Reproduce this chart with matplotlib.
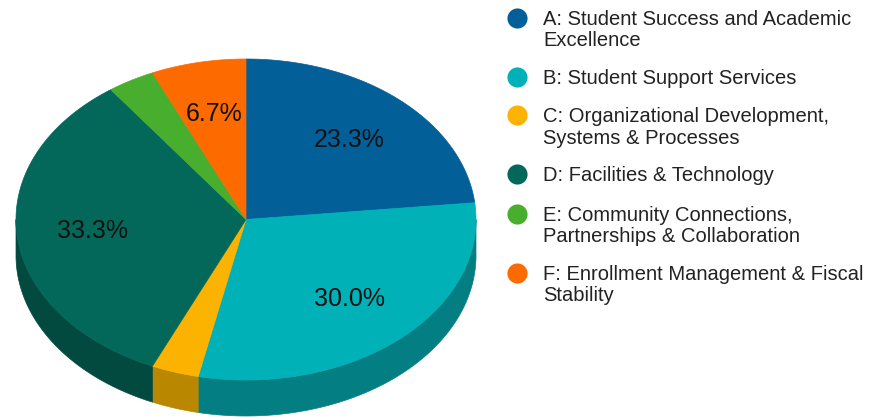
import matplotlib.pyplot as plt
import numpy as np
from matplotlib.patches import Polygon

plt.rcParams['font.family'] = ['Liberation Sans', 'DejaVu Sans']

labels = [
    "A: Student Success and Academic\nExcellence",
    "B: Student Support Services",
    "C: Organizational Development,\nSystems & Processes",
    "D: Facilities & Technology",
    "E: Community Connections,\nPartnerships & Collaboration",
    "F: Enrollment Management & Fiscal\nStability",
]
counts = [7, 9, 1, 10, 1, 2]
colors = ['#035f98', '#00b1b7', '#fbb300', '#03675a', '#47ae2e', '#fc6a00']
side_colors = ['#024670', '#037f84', '#b98700', '#024a40', '#317d1f', '#b54c00']

fig = plt.figure(figsize=(8.78, 4.17), dpi=100)
ax = fig.add_axes([0, 0, 1, 1])
ax.set_xlim(0, 878)
ax.set_ylim(417, 0)
ax.axis('off')

cx, cy, rx, ry, depth = 246, 219.5, 230, 160.5, 36

vals = np.array(counts, dtype=float)
frac = vals / vals.sum()
edges = np.concatenate([[0], np.cumsum(frac) * 360])


def pt(t, dy=0):
    r = np.radians(t)
    return cx + rx * np.sin(r), cy - ry * np.cos(r) + dy


# side walls (front half only: 90..270 deg clockwise from top)
for i in range(len(vals)):
    a, b = max(edges[i], 90), min(edges[i + 1], 270)
    if b <= a:
        continue
    ts = np.linspace(a, b, 100)
    top = [pt(t) for t in ts]
    bot = [pt(t, depth) for t in ts[::-1]]
    ax.add_patch(Polygon(top + bot, closed=True, fc=side_colors[i],
                         ec=side_colors[i], lw=0.5))

# top faces
for i in range(len(vals)):
    ts = np.linspace(edges[i], edges[i + 1], 200)
    poly = [(cx, cy)] + [pt(t) for t in ts]
    ax.add_patch(Polygon(poly, closed=True, fc=colors[i], ec=colors[i], lw=0.5))
    if frac[i] > 0.05:
        mid = (edges[i] + edges[i + 1]) / 2
        r = np.radians(mid)
        x = cx + 0.67 * rx * np.sin(r)
        y = cy - 0.67 * ry * np.cos(r)
        ax.text(x, y, f"{frac[i] * 100:.1f}%", ha='center', va='center',
                fontsize=18, color='#111111')

# legend
rows = [17.5, 76.5, 115, 174, 213.5, 272.5]
for lab, c, y in zip(labels, colors, rows):
    ax.scatter([517.5], [y], s=210, color=c, zorder=3, linewidths=0)
    for k, line in enumerate(lab.split('\n')):
        ax.text(543, y + 7.2 + k * 21.5, line, ha='left', va='baseline',
                fontsize=14.5, color='#222222')

fig.savefig('out.png', dpi=100)
